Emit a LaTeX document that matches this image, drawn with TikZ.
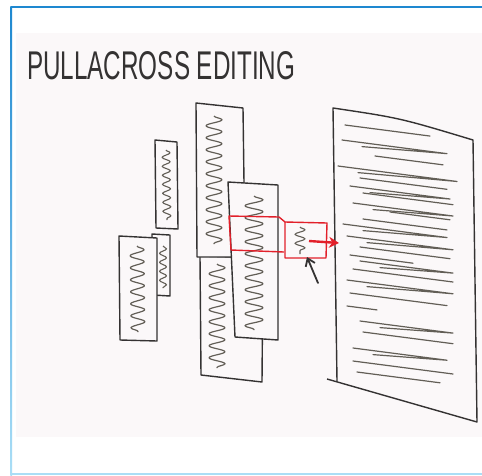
\documentclass[tikz,border=0pt]{standalone}
\usepackage{fontspec}
\setsansfont{Liberation Sans}
\usetikzlibrary{decorations.pathmorphing,arrows.meta}
\definecolor{paper}{RGB}{251,248,249}
\definecolor{ink}{RGB}{52,50,50}
\definecolor{pencil}{RGB}{98,94,86}
\definecolor{redpen}{RGB}{226,32,42}
\definecolor{frameblue}{RGB}{30,136,208}
\definecolor{framelight}{RGB}{170,222,246}
\begin{document}
\begin{tikzpicture}[x=1pt,y=-1pt,
  sheet/.style={draw=ink, line width=1.4pt, fill=paper, line join=round},
  squiggle/.style={draw=pencil, line width=1.2pt, line join=round,
    decorate, decoration={snake, amplitude=#1, segment length=12pt}},
  squiggle/.default=4pt,
  smallsquiggle/.style={draw=pencil, line width=1.1pt, line join=round,
    decorate, decoration={snake, amplitude=#1, segment length=9pt}},
  docline/.style={draw=pencil, line width=1.2pt, line cap=round, line join=round},
  redmark/.style={draw=redpen, line width=1.4pt, line join=round}]
\useasboundingbox (0,0) rectangle (482,475);
\fill[white] (0,0) rectangle (482,475);
% photographed sheet and its blue frame
\fill[paper] (16,33) rectangle (482,437);
\draw[frameblue, line width=1.6pt] (11,7) -- (482,7);
\shade[top color=frameblue, bottom color=framelight] (10.3,6.2) rectangle (12.2,475);
\draw[framelight, line width=1.6pt] (11,474) -- (482,474);

% heading
\node[anchor=south west, inner sep=0, text=ink] (title) at (27,80)
  {\resizebox{268pt}{28pt}{\sffamily PULLACROSS EDITING}};

% target document on the right
\fill[paper] (333,108) .. controls (400,118) .. (473,140) -- (477,422) -- (337,381) -- cycle;
\draw[draw=ink, line width=1.4pt, line join=round]
  (337,381) -- (333,108) .. controls (400,118) .. (473,140) -- (477,422) -- (327,379);
\foreach \xa/\ya/\xb/\lp in {345/125/430/0, 342/140/447/1, 375/156/443/0, 338/166/457/1,
  360/178/447/0, 350/186/450/1, 363/193/453/0, 353/203/453/1, 390/212/450/0,
  363/219/447/0, 343/224/447/1, 347/236/453/1, 360/247/450/0, 350/255/413/0,
  360/261/453/1, 353/269/453/0, 347/280/453/1, 350/293/447/0, 347/306/377/0,
  360/321/453/1, 363/332/453/0, 353/348/447/1, 353/361/453/0, 357/372/440/0}
{
  \ifnum\lp=1
    \draw[docline] (\xa,\ya) -- (\xb,{\ya+0.13*(\xb-\xa)}) -- ({\xa+20},{\ya+4+0.13*20});
  \else
    \draw[docline] (\xa,\ya) -- (\xb,{\ya+0.13*(\xb-\xa)});
  \fi
}

% small source sheets on the left
\path[sheet] (155,140) -- (177,142) -- (178,229) -- (156,228) -- cycle;
\draw[smallsquiggle=4pt] (166,150) -- (167,220);
\path[sheet] (152,234) -- (170,235) -- (170,296) -- (153,295) -- cycle;
\draw[smallsquiggle=3.5pt] (163,246) -- (163,288);
\path[sheet] (119,236) -- (157,238) -- (157,341) -- (120,340) -- cycle;
\draw[squiggle=7pt] (137,246) -- (138,332);

% stacked column of clips
\path[sheet] (200,256) -- (263,258) -- (262,382) -- (201,375) -- cycle;
\draw[squiggle=8pt] (217,264) -- (217,368);
\path[sheet] (196,103) -- (243,108) -- (245,257) -- (197,257) -- cycle;
\draw[squiggle=8pt] (214,116) -- (214,244);
\path[sheet] (228,182) -- (278,185) -- (278,340) -- (235,337) -- cycle;
\draw[squiggle=9pt] (254,196) -- (254,330);

% selected clip being pulled across
\draw[redmark] (285,222) -- (279,217) -- (229,216) -- (231,250) -- (284,252);
\draw[redmark] (285,222) -- (327,223) -- (326,258) -- (285,258) -- cycle;
\draw[smallsquiggle=5pt] (300,227) -- (300,254);
\coordinate (pullstart) at (309,241);
\coordinate (pullend) at (339,243);
\draw[redpen, line width=2.4pt, -{Stealth[length=10pt,width=11pt]}] (pullstart) -- (pullend);

% cursor
\coordinate (cursortail) at (318,283);
\coordinate (cursortip) at (307,257);
\draw[ink, line width=1.8pt, line cap=round, -{Straight Barb[length=7pt,width=10pt]}] (cursortail) -- (cursortip);
\end{tikzpicture}
\end{document}
